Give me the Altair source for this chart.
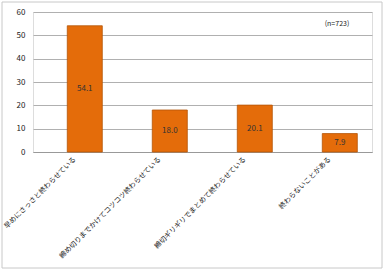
import altair as alt
import pandas as pd

categories = [
    "早めにさっさと終わらせている",
    "締め切りまでかけてコツコツ終わらせている",
    "締切ギリギリでまとめて終わらせている",
    "終わらないことがある",
]
values = [54.1, 18.0, 20.1, 7.9]
y_ticks = [0, 10, 20, 30, 40, 50, 60]
note = "(n=723)"

df = pd.DataFrame({"cat": categories, "val": values})
df["half"] = df["val"] / 2
df["lbl"] = df["val"].map(lambda v: f"{v:.1f}")

FONT = "Noto Sans CJK JP"

xscale = alt.Scale(paddingInner=0.588, paddingOuter=0.288, align=0.7)
x = alt.X("cat:N", sort=categories, title=None, scale=xscale,
          axis=alt.Axis(labelAngle=-45, labelAlign="right", labelBaseline="middle",
                        labelFontSize=7, labelFont=FONT, labelColor="#222",
                        labelPadding=6, labelOffset=-10, ticks=False,
                        domainColor="#999", labelLimit=300, labelOverlap=False))
y = alt.Y("val:Q", title=None,
          scale=alt.Scale(domain=[0, 60], nice=False),
          axis=alt.Axis(values=y_ticks, tickCount=7, labelFontSize=8, labelFont=FONT,
                        labelColor="#222", domain=False, ticks=False, labelOverlap=False,
                        gridColor="#b0b0b0", labelPadding=8))

bars = alt.Chart(df).mark_bar(color="#E46C0A", stroke="#B45508", strokeWidth=0.8).encode(x=x, y=y)
text = alt.Chart(df).mark_text(fontSize=8, font=FONT, color="#333").encode(
    x=alt.X("cat:N", sort=categories, scale=xscale), y=alt.Y("half:Q"), text="lbl:N")

note_df = pd.DataFrame({"t": [note]})
note_mark = alt.Chart(note_df).mark_text(fontSize=7, font=FONT, color="#222").encode(
    x=alt.value(304), y=alt.value(12), text="t:N")

frame = alt.Chart(note_df).mark_rect(fill=None, stroke="#c8c8c8", strokeWidth=1, clip=False).encode(
    x=alt.value(-31), x2=alt.value(349), y=alt.value(-10), y2=alt.value(256))

chart = alt.layer(frame, bars, text, note_mark).properties(
    width=339, height=140,
    autosize=alt.AutoSizeParams(type="none"),
    padding={"left": 33, "top": 12, "right": 12, "bottom": 118},
).configure_view(stroke="#b0b0b0", strokeWidth=1).configure(background="white")

chart.save("out.html", embed_options={"renderer": "svg", "actions": False})
